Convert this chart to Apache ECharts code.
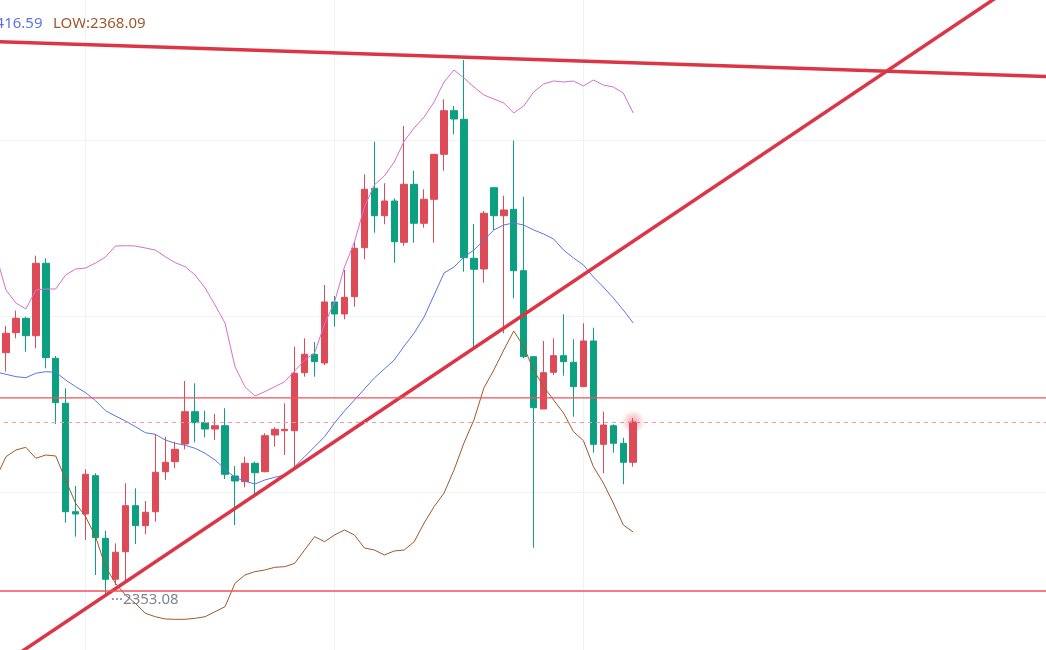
<!DOCTYPE html>
<html>
<head>
<meta charset="utf-8">
<title>K线 BOLL</title>
<script src="https://cdn.jsdelivr.net/npm/echarts@6/dist/echarts.min.js"></script>
<style>
    html,body{margin:0;padding:0;background:#fff;}
    #kline{width:1046px;height:650px;}
</style>
</head>
<body>
<div id="kline"></div>
<script>
//K线数据 [开盘, 收盘, 最低, 最高]
var candles = [
    '-',
    [2409.70,2414.20,2405.29,2415.89],[2414.34,2417.68,2413.04,2419.44],[2417.68,2413.64,2409.93,2418.05],
    [2413.64,2430.44,2410.72,2432.20],[2430.44,2408.54,2406.08,2431.60],[2408.40,2398.10,2393.15,2408.93],
    [2397.96,2372.80,2370.25,2401.44],[2372.80,2372.27,2367.01,2378.77],[2372.27,2381.48,2366.24,2382.64],
    [2381.16,2366.77,2358.12,2381.72],[2366.63,2357.12,2353.08,2368.40],[2357.12,2363.39,2355.80,2365.47],
    [2363.53,2374.20,2356.19,2379.39],[2374.20,2369.56,2365.31,2378.23],[2369.56,2372.67,2367.63,2375.29],
    [2372.80,2381.95,2370.49,2390.83],[2382.09,2384.27,2380.16,2390.21],[2384.41,2387.28,2382.87,2389.05],
    [2388.51,2396.01,2387.28,2403.13],[2396.01,2393.46,2388.91,2402.60],[2393.46,2391.99,2390.07,2396.24],
    [2391.99,2392.76,2389.44,2395.47],[2392.76,2381.48,2380.39,2396.80],[2381.09,2379.93,2369.72,2383.41],
    [2379.77,2384.04,2378.47,2385.57],[2384.04,2381.85,2376.68,2384.41],[2382.09,2390.44,2381.95,2391.00],
    [2390.60,2391.92,2387.89,2392.39],[2391.60,2391.92,2385.96,2397.96],[2391.60,2404.92,2383.25,2411.09],
    [2405.06,2409.33,2404.13,2413.04],[2409.33,2407.61,2404.13,2412.18],[2407.31,2421.46,2406.84,2425.40],
    [2421.46,2418.68,2415.73,2422.85],[2418.68,2422.55,2417.45,2428.88],[2422.69,2433.92,2420.37,2435.31],
    [2434.06,2447.61,2431.37,2451.09],[2447.84,2441.48,2437.54,2458.65],[2441.48,2444.89,2439.49,2449.00],
    [2444.89,2435.45,2430.58,2445.50],[2435.31,2448.77,2434.52,2462.30],[2448.77,2439.72,2435.22,2451.92],
    [2439.72,2445.29,2438.70,2447.61],[2445.29,2455.73,2435.22,2455.73],[2455.73,2465.85,2451.92,2468.49],
    [2465.85,2463.92,2460.37,2466.94],[2463.85,2431.74,2428.49,2477.61],[2431.60,2429.05,2411.09,2439.56],
    [2429.12,2442.04,2425.94,2442.57],[2447.98,2441.48,2438.17,2447.98],[2441.48,2442.81,2414.20,2446.12],
    [2442.97,2428.72,2422.32,2458.88],[2428.72,2408.77,2408.40,2445.89],[2408.77,2396.93,2364.45,2408.77],
    [2396.63,2405.06,2396.63,2412.41],[2405.15,2409.00,2404.52,2413.04],[2409.00,2407.61,2404.36,2418.61],
    [2407.47,2401.81,2394.85,2412.81],[2401.81,2412.41,2401.81,2416.52],[2412.41,2388.44,2386.49,2415.50],
    [2388.44,2392.92,2381.72,2396.01],[2392.76,2388.68,2386.49,2393.08],[2388.68,2384.27,2379.16,2389.97],
    [2384.27,2393.60,2383.25,2394.55]
];
//BOLL 上轨
var bollUp = [
    2432.36,2424.24,2421.23,2419.84,2424.24,2424.48,2424.48,2427.72,2429.12,2429.35,2430.51,
    2431.90,2434.45,2434.52,2434.45,2433.99,2433.52,2431.97,2430.58,2429.65,2427.72,
    2424.71,2420.76,2416.59,2406.45,2401.81,2399.65,2400.65,2401.81,2402.97,2405.45,
    2408.00,2409.63,2416.36,2421.46,2429.58,2435.38,2443.50,2448.61,2450.69,2453.94,
    2458.81,2461.83,2464.38,2467.86,2472.50,2475.29,2473.43,2471.34,2469.49,2468.56,
    2467.63,2465.31,2466.94,2470.18,2472.04,2472.74,2472.50,2472.74,2471.58,2472.97,
    2471.81,2471.34,2469.95,2465.31
];
//BOLL 中轨
var bollMid = [
    2405.22,2404.69,2404.13,2403.90,2404.92,2405.29,2405.15,2403.36,2401.81,2400.42,2398.56,
    2396.24,2395.01,2393.85,2392.53,2391.13,2390.76,2389.44,2388.67,2388.21,2387.51,
    2386.35,2384.80,2382.64,2380.79,2379.93,2379.23,2380.16,2380.79,2381.32,2383.25,
    2385.57,2387.89,2390.21,2393.39,2396.17,2398.72,2401.27,2403.83,2405.91,2408.00,
    2411.25,2414.27,2417.98,2423.08,2428.19,2429.58,2431.90,2433.52,2435.85,2438.17,
    2439.33,2439.79,2439.33,2438.17,2437.24,2436.08,2433.52,2431.67,2430.05,2427.26,
    2424.94,2422.39,2419.60,2416.59
];
//BOLL 下轨
var bollLow = [
    2380.63,2385.57,2387.12,2387.75,2385.20,2385.96,2385.73,2380.16,2374.75,2371.65,2367.01,
    2360.05,2356.19,2353.48,2351.55,2349.23,2348.44,2347.91,2347.84,2347.84,2348.07,
    2348.44,2349.61,2350.76,2356.19,2358.12,2358.89,2359.28,2359.90,2360.05,2360.83,
    2363.92,2367.01,2365.85,2367.40,2368.56,2367.40,2364.38,2363.92,2362.76,2363.69,
    2363.92,2365.85,2370.18,2373.97,2377.14,2382.48,2388.75,2394.08,2401.51,2405.68,
    2410.32,2414.73,2411.09,2405.68,2401.81,2398.72,2395.71,2391.37,2389.28,2383.25,
    2379.46,2374.82,2369.72,2368.09
];
//画线：压力线、支撑线 [K线序号, 价格]
var resistLine = [[0,2481.88],[106,2473.73]];
var supportLine = [[0,2336.35],[106,2500.67]];
//水平线
var levelLines = [2399.20,2354.41];

//横轴（右侧留空）
var categories = [];
for(var i=0;i<107;i++){
    categories.push(String(i));
}

var RED = '#dd4b58', GREEN = '#0ba080', LEVEL = '#f2505d';
var lastIdx = candles.length-1,
    lastClose = candles[lastIdx][1],
    lastCat = categories.length-1;

//水平线做成两点折线
var levelSeries = levelLines.map(function(v){
    return {
        type:'line',
        data:[[0,v],[lastCat,v]],
        symbol:'none',
        silent:true,
        z:10,
        color:LEVEL,
        emphasis:{disabled:true},
        itemStyle:{color:LEVEL},
        lineStyle:{color:LEVEL,width:1.3,opacity:1}
    };
});

var chart = echarts.init(document.getElementById('kline'));
chart.setOption({
    animation:false,
    backgroundColor:'#fff',
    grid:{left:-4,right:-5.4,top:-36,bottom:-18,containLabel:false,outerBoundsMode:'none'},
    xAxis:{
        type:'category',
        data:categories,
        boundaryGap:false,
        axisLine:{show:false,onZero:false},
        axisTick:{show:false},
        axisLabel:{show:false},
        axisPointer:{show:false},
        splitLine:{
            show:true,
            interval:function(index){ return index>=9 && index<=lastIdx && (index-9)%25===0; },
            lineStyle:{color:'#f1f2f5',width:1}
        }
    },
    yAxis:[
        {
            type:'value',
            min:2336.54,
            max:2499.88,
            show:false,
            axisLine:{show:false,onZero:false},
            splitLine:{show:false}
        },
        {
            //网格线
            type:'value',
            min:0,
            max:4,
            interval:1,
            axisLine:{show:false,onZero:false},
            axisTick:{show:false},
            axisLabel:{show:false},
            splitLine:{show:true,lineStyle:{color:'#f1f2f5',width:1}}
        }
    ],
    graphic:[
        {
            type:'text',
            x:42.5,
            y:24,
            style:{
                text:'MID:'+bollMid[lastIdx].toFixed(2),
                fill:'#5b74e8',
                font:'15px "Noto Sans"',
                align:'right',
                verticalAlign:'middle',
                textAlign:'right',
                textVerticalAlign:'middle'
            }
        },
        {
            type:'text',
            x:53,
            y:24,
            style:{
                text:'LOW:'+bollLow[lastIdx].toFixed(2),
                fill:'#a0592c',
                font:'15px "Noto Sans"',
                align:'left',
                verticalAlign:'middle',
                textAlign:'left',
                textVerticalAlign:'middle'
            }
        }
    ],
    series:[
        {
            name:'K',
            type:'candlestick',
            data:candles,
            barWidth:7,
            z:2,
            itemStyle:{
                color:RED,
                color0:GREEN,
                borderColor:RED,
                borderColor0:GREEN,
                borderWidth:1
            },
            markPoint:{
                symbol:'circle',
                symbolSize:1,
                itemStyle:{color:'rgba(0,0,0,0)'},
                data:[{type:'min',valueDim:'lowest'}],
                label:{
                    show:true,
                    position:'right',
                    distance:5,
                    offset:[0,3],
                    color:'#7d8391',
                    fontSize:15,
                    fontFamily:'Noto Sans',
                    formatter:function(p){ return '···'+Number(p.value).toFixed(2); }
                }
            }
        },
        {
            name:'UP',
            type:'line',
            data:bollUp,
            symbol:'none',
            z:3,
            lineStyle:{color:'#d66fd0',width:1}
        },
        {
            name:'MID',
            type:'line',
            data:bollMid,
            symbol:'none',
            z:3,
            lineStyle:{color:'#5b74e8',width:1},
            //最新价线
            markLine:{
                silent:true,
                symbol:'none',
                label:{show:false},
                data:[
                    {yAxis:lastClose,lineStyle:{color:'#f29aa2',width:1,type:[4,4]}}
                ]
            }
        },
        {
            name:'LOW',
            type:'line',
            data:bollLow,
            symbol:'none',
            z:3,
            lineStyle:{color:'#a0592c',width:1}
        },
        {
            name:'压力线',
            type:'line',
            data:resistLine,
            symbol:'none',
            clip:false,
            z:4,
            lineStyle:{color:'#dc3545',width:3.5}
        },
        {
            name:'支撑线',
            type:'line',
            data:supportLine,
            symbol:'none',
            clip:false,
            z:4,
            lineStyle:{color:'#dc3545',width:3.5}
        },
        {
            //最新价闪烁点
            type:'scatter',
            data:[[lastIdx,lastClose]],
            symbolSize:24,
            z:5,
            itemStyle:{
                color:new echarts.graphic.RadialGradient(0.5,0.5,0.5,[
                    {offset:0,color:'rgba(221,75,88,0.6)'},
                    {offset:1,color:'rgba(221,75,88,0)'}
                ])
            }
        }
    ].concat(levelSeries)
});
</script>
</body>
</html>
